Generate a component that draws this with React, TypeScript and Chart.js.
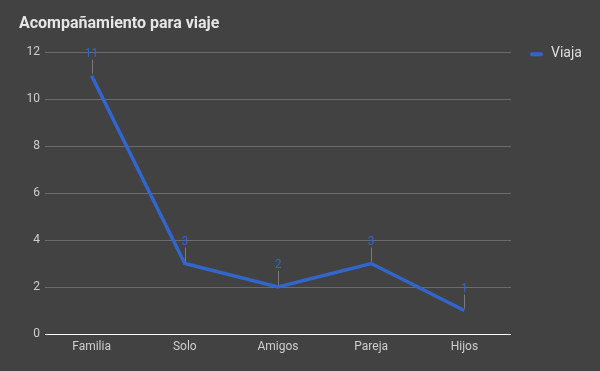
import React, { useEffect, useRef } from "react";
import { Chart, registerables } from "chart.js";

Chart.register(...registerables);

const categories = ["Familia", "Solo", "Amigos", "Pareja", "Hijos"];
const viajaValues = [11, 3, 2, 3, 1];
const seriesName = "Viaja";
const chartTitle = "Acompañamiento para viaje";

const BG = "#424242";
const BLUE = "#3366cc";
const FONT = "Roboto, 'Noto Sans', sans-serif";

const bgPlugin = {
  id: "bg",
  beforeDraw(chart: any) {
    const { ctx, width, height } = chart;
    ctx.save();
    ctx.fillStyle = BG;
    ctx.fillRect(0, 0, width, height);
    ctx.restore();
  },
};

const labelPlugin = {
  id: "pointLabels",
  afterDatasetsDraw(chart: any) {
    const { ctx } = chart;
    const meta = chart.getDatasetMeta(0);
    const data = chart.data.datasets[0].data;
    ctx.save();
    meta.data.forEach((pt: any, i: number) => {
      const x = Math.round(pt.x) + 0.5;
      const y = pt.y;
      ctx.strokeStyle = "#7a7a7a";
      ctx.lineWidth = 1;
      ctx.beginPath();
      ctx.moveTo(x, y - 2);
      ctx.lineTo(x, y - 16);
      ctx.stroke();
      ctx.fillStyle = BLUE;
      ctx.font = `12px ${FONT}`;
      ctx.textAlign = "center";
      ctx.textBaseline = "middle";
      ctx.fillText(String(data[i]), pt.x, y - 22);
    });
    ctx.restore();
  },
};

const legendPlugin = {
  id: "customLegend",
  afterDraw(chart: any) {
    const { ctx, chartArea } = chart;
    const x0 = chartArea.right + 19;
    const y = chartArea.top + 2;
    ctx.save();
    ctx.strokeStyle = BLUE;
    ctx.lineWidth = 4;
    ctx.lineCap = "round";
    ctx.beginPath();
    ctx.moveTo(x0 + 2, y);
    ctx.lineTo(x0 + 11, y);
    ctx.stroke();
    ctx.fillStyle = "#dedede";
    ctx.font = `14px ${FONT}`;
    ctx.textAlign = "left";
    ctx.textBaseline = "middle";
    ctx.fillText(chart.data.datasets[0].label, x0 + 21, y - 1);
    ctx.restore();
  },
};

export default function App() {
  const ref = useRef<HTMLCanvasElement | null>(null);
  useEffect(() => {
    if (!ref.current) return;
    const chart = new Chart(ref.current, {
      type: "line",
      data: {
        labels: categories,
        datasets: [
          {
            label: seriesName,
            data: viajaValues,
            borderColor: BLUE,
            backgroundColor: BLUE,
            borderWidth: 3.5,
            pointRadius: 0,
            pointHoverRadius: 0,
            tension: 0,
          },
        ],
      },
      options: {
        responsive: false,
        animation: false,
        events: [],
        layout: { padding: { left: 19, right: 89, top: 10, bottom: 0 } },
        plugins: {
          legend: { display: false },
          tooltip: { enabled: false },
          title: {
            display: true,
            text: chartTitle,
            align: "start",
            color: "#e6e6e6",
            font: { family: FONT, size: 16, weight: "bold" },
            padding: { top: 4, bottom: 19 },
          },
        },
        scales: {
          x: {
            offset: true,
            grid: { display: false, drawTicks: false },
            border: { display: false },
            ticks: {
              color: "#cfcfcf",
              font: { family: FONT, size: 12 },
              padding: 6,
            },
            afterFit(scale: any) {
              scale.height = 37;
            },
          },
          y: {
            min: 0,
            max: 12,
            ticks: {
              stepSize: 2,
              color: "#cfcfcf",
              font: { family: FONT, size: 12 },
              padding: 5,
            },
            grid: {
              drawTicks: false,
              color: (c: any) => (c.tick && c.tick.value === 0 ? "#ffffff" : "#6c6c6c"),
              lineWidth: 1,
            },
            border: { display: false },
            afterFit(scale: any) {
              scale.width = 26;
            },
          },
        },
      },
      plugins: [bgPlugin, labelPlugin, legendPlugin],
    });
    return () => chart.destroy();
  }, []);
  return (
    <div style={{ position: "fixed", left: 0, top: 0, width: 600, height: 371, background: BG }}>
      <canvas ref={ref} width={600} height={371} style={{ display: "block" }} />
    </div>
  );
}
